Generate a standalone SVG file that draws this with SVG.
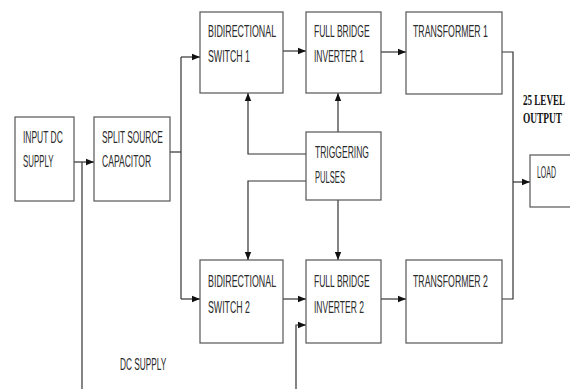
<svg xmlns="http://www.w3.org/2000/svg" width="570" height="389" viewBox="0 0 570 389">
<style>
.box{fill:#fff;stroke:#555;stroke-width:1.2}
.t{font-family:"Liberation Sans",Arial,sans-serif;font-size:17px;fill:#2a2a2a}
.b{font-family:"Liberation Serif","Times New Roman",serif;font-size:15.5px;font-weight:bold;fill:#111}
.c{fill:none;stroke:#333;stroke-width:1.2}
</style>
<defs>
<marker id="ah" markerUnits="userSpaceOnUse" markerWidth="8" markerHeight="8" viewBox="0 0 8 8" refX="8" refY="4" orient="auto">
<path d="M0,0.8 L8,4 L0,7.2 Z" fill="#111"/>
</marker>
</defs>
<rect width="570" height="389" fill="#fff"/>
<g id="connectors">
<path class="c" d="M74,162 H94" marker-end="url(#ah)"/>
<path class="c" d="M82,162 V389"/>
<path class="c" d="M170,152 H181"/>
<path class="c" d="M181,57 V299"/>
<path class="c" d="M181,57 H200" marker-end="url(#ah)"/>
<path class="c" d="M181,299 H200" marker-end="url(#ah)"/>
<path class="c" d="M283,51 H306" marker-end="url(#ah)"/>
<path class="c" d="M381,52 H406" marker-end="url(#ah)"/>
<path class="c" d="M338,132 V93" marker-end="url(#ah)"/>
<path class="c" d="M306,154 H248 V93" marker-end="url(#ah)"/>
<path class="c" d="M306,181 H248 V260" marker-end="url(#ah)"/>
<path class="c" d="M338,200 V260" marker-end="url(#ah)"/>
<path class="c" d="M283,299 H306" marker-end="url(#ah)"/>
<path class="c" d="M296,389 V325 H306" marker-end="url(#ah)"/>
<path class="c" d="M381,299 H406" marker-end="url(#ah)"/>
<path class="c" d="M502,52 H513 V299 H502"/>
<path class="c" d="M513,182 H530" marker-end="url(#ah)"/>
</g>
<g id="input">
<rect class="box" x="15" y="117" width="59" height="84"/>
<text class="t" transform="translate(23,143) scale(0.498,1)">INPUT DC</text>
<text class="t" transform="translate(23,167) scale(0.462,1)">SUPPLY</text>
</g>
<g id="split">
<rect class="box" x="94" y="117" width="76" height="84"/>
<text class="t" transform="translate(102,143) scale(0.489,1)">SPLIT SOURCE</text>
<text class="t" transform="translate(102,167) scale(0.504,1)">CAPACITOR</text>
</g>
<g id="bs1">
<rect class="box" x="200" y="12" width="83" height="81"/>
<text class="t" transform="translate(208,37) scale(0.523,1)">BIDIRECTIONAL</text>
<text class="t" transform="translate(208,62) scale(0.517,1)">SWITCH 1</text>
</g>
<g id="fbi1">
<rect class="box" x="306" y="12" width="75" height="81"/>
<text class="t" transform="translate(314,37) scale(0.502,1)">FULL BRIDGE</text>
<text class="t" transform="translate(314,62) scale(0.5,1)">INVERTER 1</text>
</g>
<g id="t1">
<rect class="box" x="406" y="12" width="96" height="82"/>
<text class="t" transform="translate(413,37) scale(0.516,1)">TRANSFORMER 1</text>
</g>
<g id="tp">
<rect class="box" x="306" y="132" width="75" height="68"/>
<text class="t" transform="translate(315,158) scale(0.501,1)">TRIGGERING</text>
<text class="t" transform="translate(315,183) scale(0.447,1)">PULSES</text>
</g>
<g id="bs2">
<rect class="box" x="200" y="260" width="83" height="83"/>
<text class="t" transform="translate(208,287) scale(0.523,1)">BIDIRECTIONAL</text>
<text class="t" transform="translate(208,313) scale(0.517,1)">SWITCH 2</text>
</g>
<g id="fbi2">
<rect class="box" x="306" y="260" width="75" height="83"/>
<text class="t" transform="translate(314,287) scale(0.502,1)">FULL BRIDGE</text>
<text class="t" transform="translate(314,313) scale(0.5,1)">INVERTER 2</text>
</g>
<g id="t2">
<rect class="box" x="406" y="260" width="96" height="83"/>
<text class="t" transform="translate(413,287) scale(0.516,1)">TRANSFORMER 2</text>
</g>
<g id="load">
<rect class="box" x="530" y="155" width="45" height="52"/>
<text class="t" transform="translate(537,178) scale(0.41,1)">LOAD</text>
</g>
<g id="labels">
<text class="b" transform="translate(523,105) scale(0.584,1)">25 LEVEL</text>
<text class="b" transform="translate(523,123) scale(0.604,1)">OUTPUT</text>
<text class="t" transform="translate(120,370) scale(0.488,1)">DC SUPPLY</text>
</g>
</svg>
